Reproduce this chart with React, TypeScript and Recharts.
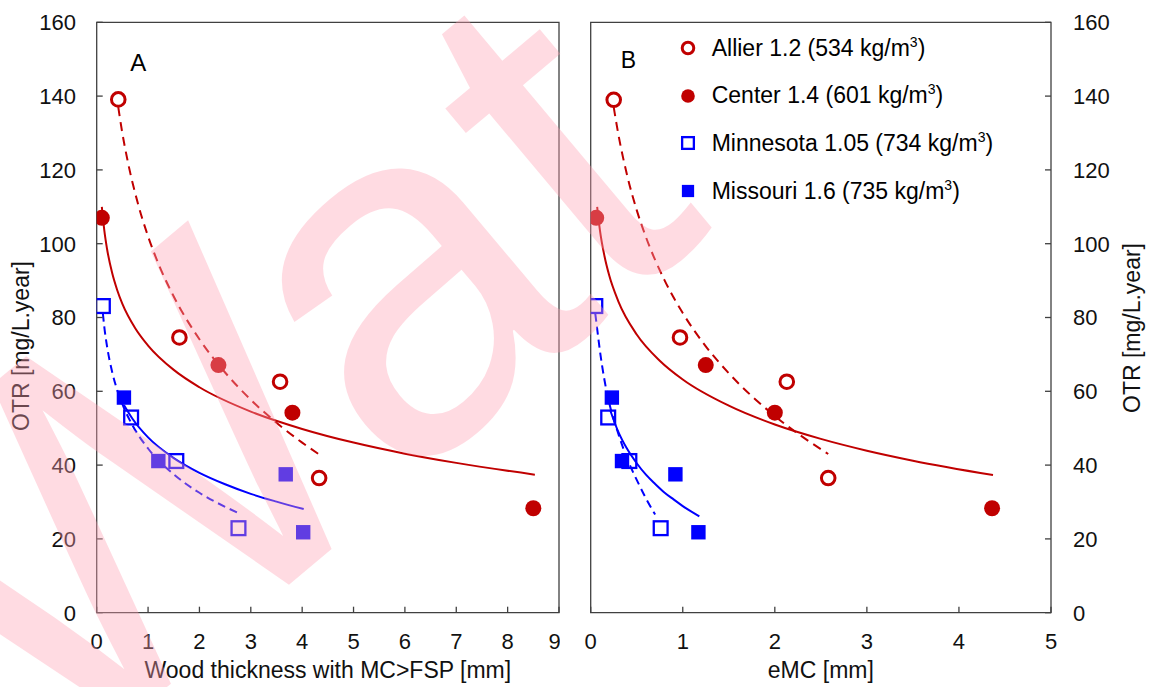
import React from 'react'
import { ComposedChart, Scatter, Line, XAxis, YAxis, ReferenceArea, Legend } from 'recharts'

const RED = '#c00000'
const BLUE = '#0000ff'
const FRAME = '#404040'
const FONT = '"Liberation Sans", Arial, Helvetica, sans-serif'

type Pt = { x: number; y: number }
const zip = (xs: number[], ys: number[]): Pt[] => xs.map((x, i) => ({ x, y: ys[i] }))

// legend
const sites = ['Allier', 'Center', 'Minnesota', 'Missouri']
const siteParam = ['1.2', '1.4', '1.05', '1.6']
const siteDensity = [534, 601, 734, 735]
const siteColor = [RED, RED, BLUE, BLUE]
const siteMarker = ['openCircle', 'dot', 'openSquare', 'square']
const fitDash = ['9 6', undefined, '8 5', undefined]

// panel A: wood thickness with MC>FSP [mm]
const allierA_x = [0.42, 1.61, 3.57, 4.33]
const allierA_y = [139.1, 74.6, 62.6, 36.5]
const centerA_x = [0.1, 2.37, 3.81, 8.5]
const centerA_y = [107, 67.1, 54.2, 28.3]
const minnesotaA_x = [0.12, 0.67, 1.55, 2.76]
const minnesotaA_y = [83.1, 52.9, 41.1, 22.9]
const missouriA_x = [0.53, 1.2, 3.68, 4.02]
const missouriA_y = [58.3, 41.1, 37.5, 21.8]

// panel A fitted curves
const allierFitA_x = [0.42, 0.5, 0.6, 0.8, 1, 1.25, 1.5, 2, 2.5, 3, 3.5, 4, 4.35]
const allierFitA_y = [137, 129.9, 122.6, 111, 102, 93, 85.7, 74.1, 65.1, 57.7, 51.5, 46.1, 42.7]
const centerFitA_x = [0.1, 0.15, 0.2, 0.3, 0.4, 0.5, 0.75, 1, 1.5, 2, 3, 4, 5, 6, 7, 8.53]
const centerFitA_y = [110, 103.4, 98.7, 92.1, 87.4, 83.7, 77.1, 72.4, 65.8, 61.1, 54.5, 49.8, 46.1, 43.1, 40.6, 37.4]
const minnesotaFitA_x = [0.12, 0.15, 0.2, 0.3, 0.4, 0.5, 0.7, 1, 1.5, 2, 2.5, 2.73]
const minnesotaFitA_y = [81.1, 77.2, 72.3, 65.3, 60.3, 56.5, 50.7, 44.5, 37.5, 32.5, 28.7, 27.2]
const missouriFitA_x = [0.53, 0.7, 1, 1.5, 2, 2.5, 3, 3.5, 4.03]
const missouriFitA_y = [56.3, 52.5, 47.5, 41.9, 37.9, 34.8, 32.2, 30.1, 28.1]

// panel B: eMC [mm]
const allierB_x = [0.25, 0.97, 2.13, 2.58]
const allierB_y = [139, 74.6, 62.6, 36.5]
const centerB_x = [0.06, 1.25, 2.0, 4.36]
const centerB_y = [107, 67.1, 54.2, 28.3]
const minnesotaB_x = [0.05, 0.19, 0.42, 0.76]
const minnesotaB_y = [83.1, 52.9, 41.1, 22.9]
const missouriB_x = [0.23, 0.34, 0.92, 1.17]
const missouriB_y = [58.3, 41.1, 37.5, 21.8]

const allierFitB_x = [0.25, 0.3, 0.4, 0.5, 0.6, 0.8, 1, 1.25, 1.5, 2, 2.58]
const allierFitB_y = [137, 129.7, 118.1, 109.1, 101.8, 90.2, 81.2, 72.2, 64.9, 53.3, 43]
const centerFitB_x = [0.07, 0.1, 0.15, 0.2, 0.3, 0.5, 0.75, 1, 1.5, 2, 2.5, 3, 3.5, 4.37]
const centerFitB_y = [110, 103.7, 96.6, 91.5, 84.4, 75.4, 68.3, 63.2, 56.1, 51, 47.1, 43.9, 41.2, 37.3]
const minnesotaFitB_x = [0.05, 0.07, 0.1, 0.15, 0.2, 0.3, 0.4, 0.5, 0.6, 0.7]
const minnesotaFitB_y = [81, 77, 71, 63, 57, 48.5, 41.5, 36, 31, 26.6]
const missouriFitB_x = [0.21, 0.3, 0.4, 0.5, 0.6, 0.7, 0.8, 0.9, 1, 1.18]
const missouriFitB_y = [55, 49, 44.2, 40.5, 37.4, 34.9, 32.6, 30.7, 28.9, 26.1]

const yTicks = [0, 20, 40, 60, 80, 100, 120, 140, 160]
const xTicksA = [0, 1, 2, 3, 4, 5, 6, 7, 8, 9]
const xTicksB = [0, 1, 2, 3, 4, 5]

const pointsA = [zip(allierA_x, allierA_y), zip(centerA_x, centerA_y), zip(minnesotaA_x, minnesotaA_y), zip(missouriA_x, missouriA_y)]
const fitsA = [zip(allierFitA_x, allierFitA_y), zip(centerFitA_x, centerFitA_y), zip(minnesotaFitA_x, minnesotaFitA_y), zip(missouriFitA_x, missouriFitA_y)]
const pointsB = [zip(allierB_x, allierB_y), zip(centerB_x, centerB_y), zip(minnesotaB_x, minnesotaB_y), zip(missouriB_x, missouriB_y)]
const fitsB = [zip(allierFitB_x, allierFitB_y), zip(centerFitB_x, centerFitB_y), zip(minnesotaFitB_x, minnesotaFitB_y), zip(missouriFitB_x, missouriFitB_y)]

function Marker({ cx, cy, kind, color, big = true }: { cx: number; cy: number; kind: string; color: string; big?: boolean }) {
  if (cx == null || cy == null) return null
  const s = big ? 1 : 0.85
  if (kind === 'openCircle') return <circle cx={cx} cy={cy} r={6.8 * s} fill="none" stroke={color} strokeWidth={3} />
  if (kind === 'dot') return <circle cx={cx} cy={cy} r={8 * s} fill={color} />
  if (kind === 'openSquare') {
    const h = 6.9 * s
    return <rect x={cx - h} y={cy - h} width={2 * h} height={2 * h} fill="none" stroke={color} strokeWidth={2.3} />
  }
  const h = 7.2 * s
  return <rect x={cx - h} y={cy - h} width={2 * h} height={2 * h} fill={color} />
}

const tickStyle = { fill: '#111', fontSize: 22, fontFamily: FONT }

const LegendBox = () => (
  <div style={{ fontFamily: FONT, fontSize: 23, color: '#000' }}>
    {sites.map((s, i) => (
      <div key={s} style={{ display: 'flex', alignItems: 'center', height: 47.6 }}>
        <svg width={20} height={20} style={{ display: 'block' }}>
          <Marker cx={10} cy={10} kind={siteMarker[i]} color={siteColor[i]} big={false} />
        </svg>
        <span style={{ marginLeft: 13.4, whiteSpace: 'nowrap', lineHeight: 1 }}>
          {s} {siteParam[i]} ({siteDensity[i]} kg/m<sup style={{ fontSize: 14, lineHeight: 0 }}>3</sup>)
        </span>
      </div>
    ))}
  </div>
)

function renderSeries(points: Pt[][], fits: Pt[][], tag: string) {
  const lines = fits.map((f, i) => (
    <Line key={`${tag}-fit-${i}`} data={f} dataKey="y" type="monotone" stroke={siteColor[i]} strokeWidth={2}
      strokeDasharray={fitDash[i]} dot={false} activeDot={false} isAnimationActive={false} legendType="none" />
  ))
  const dots = points.map((p, i) => (
    <Scatter key={`${tag}-pts-${i}`} name={sites[i]} data={p} isAnimationActive={false}
      shape={(props: any) => <Marker cx={props.cx} cy={props.cy} kind={siteMarker[i]} color={siteColor[i]} />} />
  ))
  return [...lines, ...dots]
}

const yTitle = (x: number, y: number) => () => (
  <text x={x} y={y} transform={`rotate(-90 ${x} ${y})`} textAnchor="middle" fill="#111" fontSize={23} fontFamily={FONT}>
    OTR [mg/L.year]
  </text>
)

export default function App() {
  return (
    <div style={{ position: 'absolute', left: 0, top: 0, width: 1153, height: 687, background: '#fff', overflow: 'hidden' }}>
      <div style={{ position: 'absolute', left: 0, top: 0 }}>
        <ComposedChart width={560} height={687} margin={{ top: 22.3, right: 1, bottom: 0, left: 6.7 }}>
          <XAxis type="number" dataKey="x" domain={[0, 9]} ticks={xTicksA} allowDataOverflow height={74.3}
            axisLine={false} tickLine={{ stroke: FRAME, strokeWidth: 1.3 }} tickSize={-6} tickMargin={26.3} tick={tickStyle}
            label={{ value: 'Wood thickness with MC>FSP [mm]', position: 'insideBottom', offset: 9, fill: '#111', fontSize: 23, fontFamily: FONT }} />
          <YAxis type="number" dataKey="y" domain={[0, 160]} ticks={yTicks} allowDataOverflow width={90}
            axisLine={false} tickLine={{ stroke: FRAME, strokeWidth: 1.3 }} tickSize={-6} tickMargin={26.7} tick={tickStyle}
            label={{ content: yTitle(28.5, 346) }} />
          <ReferenceArea x1={0} x2={9} y1={0} y2={160} fill="none" stroke={FRAME} strokeWidth={1.3} ifOverflow="visible" />
          {renderSeries(pointsA, fitsA, 'A')}
        </ComposedChart>
      </div>
      <div style={{ position: 'absolute', left: 560, top: 0 }}>
        <ComposedChart width={593} height={687} margin={{ top: 22.3, right: 2, bottom: 0, left: 30.7 }}>
          <XAxis type="number" dataKey="x" domain={[0, 5]} ticks={xTicksB} allowDataOverflow height={74.3}
            axisLine={false} tickLine={{ stroke: FRAME, strokeWidth: 1.3 }} tickSize={-6} tickMargin={26.3} tick={tickStyle}
            label={{ value: 'eMC [mm]', position: 'insideBottom', offset: 9, fill: '#111', fontSize: 23, fontFamily: FONT }} />
          <YAxis type="number" dataKey="y" orientation="right" domain={[0, 160]} ticks={yTicks} allowDataOverflow width={100}
            axisLine={false} tickLine={{ stroke: FRAME, strokeWidth: 1.3 }} tickSize={-6} tickMargin={28} tick={tickStyle}
            label={{ content: yTitle(580, 328) }} />
          <ReferenceArea x1={0} x2={5} y1={0} y2={160} fill="none" stroke={FRAME} strokeWidth={1.3} ifOverflow="visible" />
          {renderSeries(pointsB, fitsB, 'B')}
          <Legend layout="vertical" align="center" verticalAlign="middle" content={LegendBox}
            wrapperStyle={{ left: 118.3, top: 24.5, width: 'auto', height: 'auto' }} />
        </ComposedChart>
      </div>
      <svg width={1153} height={687} style={{ position: 'absolute', left: 0, top: 0, pointerEvents: 'none' }}>
        <text x={138.3} y={70.7} textAnchor="middle" fontSize={24} fill="#000" fontFamily={FONT}>A</text>
        <text x={628.3} y={68.3} textAnchor="middle" fontSize={23} fill="#000" fontFamily={FONT}>B</text>
        <text x={49} y={786} transform="rotate(-40 49 786)" fontSize={500} fill="rgb(255,160,180)" fillOpacity={0.38} fontFamily={FONT}>
          Wat
        </text>
      </svg>
    </div>
  )
}
